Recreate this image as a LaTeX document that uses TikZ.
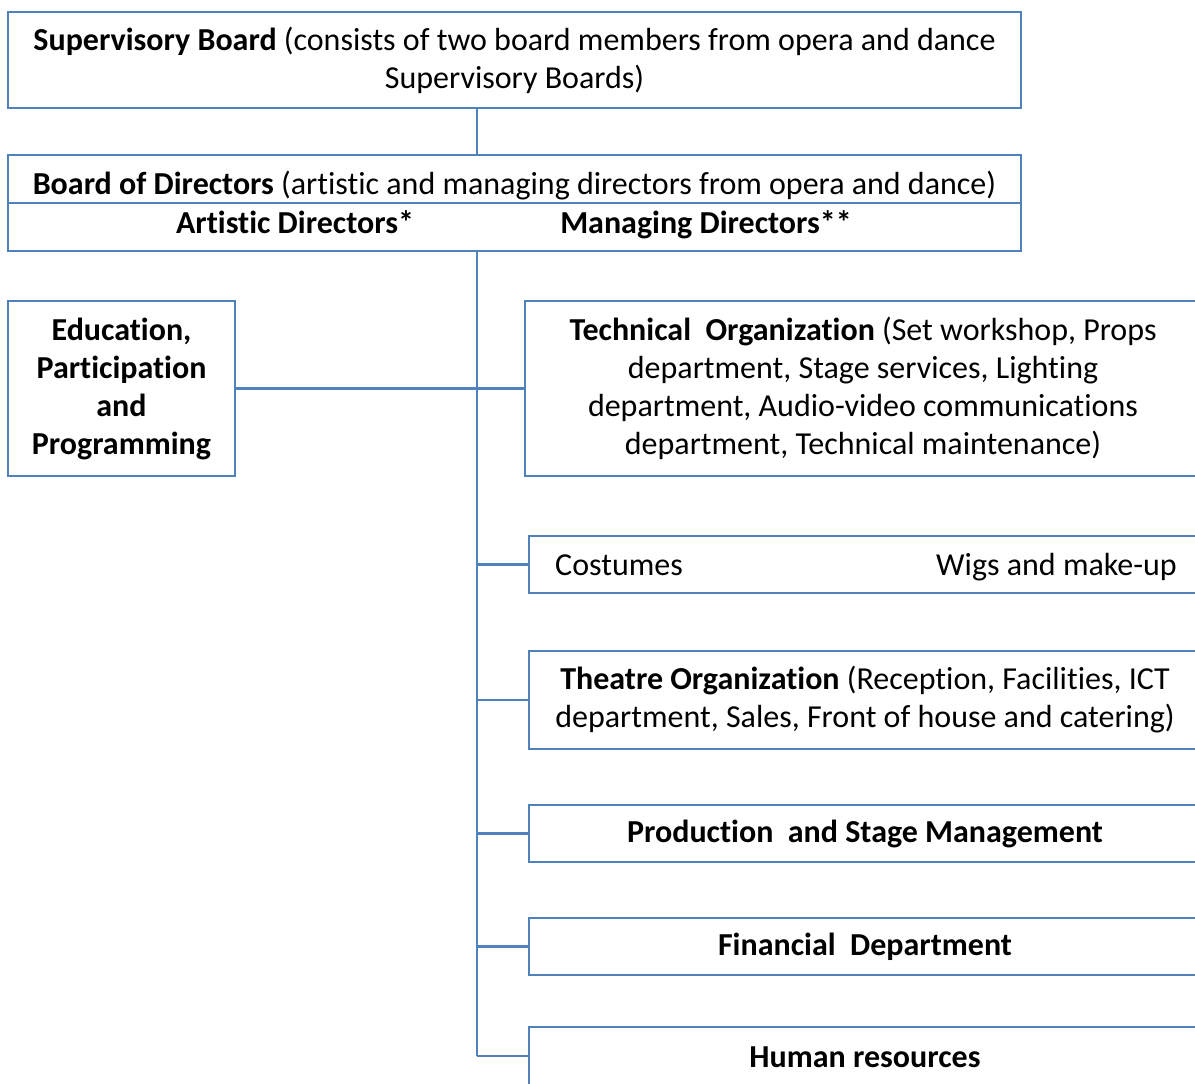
\documentclass[tikz,border=0pt]{standalone}
\usepackage{fontspec}
\setmainfont{Carlito}[Ligatures=NoCommon]
\definecolor{orgline}{RGB}{79,129,189}
\begin{document}
\begin{tikzpicture}[x=1pt,y=-1pt,
    font=\fontsize{32}{38}\selectfont,
    box/.style={draw=orgline,line width=2.5pt,rectangle,inner sep=0pt,align=center},
    lbl/.style={inner sep=0pt},
    link/.style={draw=orgline,line width=2.5pt}]
  \useasboundingbox (0,0) rectangle (1195,1084);
  \clip (0,0) rectangle (1195,1084);
  % boards
  \node[box,minimum width=1013pt,minimum height=96pt] (sup) at (514.5,60)
    {\textbf{Supervisory Board} (consists of two board members from opera and dance\\Supervisory Boards)};
  \node[box,minimum width=1013pt,minimum height=96pt] (bod) at (514.5,203) {};
  \draw[link] (bod.west) -- (bod.east);
  \node[lbl,anchor=base] (bodtxt) at (514.5,194)
    {\textbf{Board of Directors} (artistic and managing directors from opera and dance)};
  \node[lbl,anchor=base] (art) at (295,233) {\textbf{Artistic Directors*}};
  \node[lbl,anchor=base] (man) at (706,233) {\textbf{Managing Directors**}};
  \coordinate (trunk) at (477,251);
  \coordinate (trunkend) at (477,1056);
  % departments
  \node[box,minimum width=227pt,minimum height=175pt] (edu) at (121.5,388.5)
    {\textbf{Education,}\\\textbf{Participation}\\\textbf{and}\\\textbf{Programming}};
  \node[box,minimum width=676pt,minimum height=175pt] (tech) at (863,388.5)
    {\textbf{Technical\ \ Organization} (Set workshop, Props\\department, Stage services, Lighting\\department, Audio-video communications\\department, Technical maintenance)};
  \node[box,minimum width=672pt,minimum height=57pt] (cost) at (865,564.5) {};
  \node[lbl,anchor=base west] (costa) at (555,575) {Costumes};
  \node[lbl,anchor=base east] (costb) at (1177,575) {Wigs and make-up};
  \node[box,minimum width=672pt,minimum height=98pt] (theatre) at (865,700)
    {\textbf{Theatre Organization} (Reception, Facilities, ICT\\department, Sales, Front of house and catering)};
  \node[box,minimum width=672pt,minimum height=57pt] (prod) at (865,833.5)
    {\textbf{Production\ \ and Stage Management}};
  \node[box,minimum width=672pt,minimum height=57pt] (fin) at (865,946.5)
    {\textbf{Financial\ \ Department}};
  \node[box,minimum width=672pt,minimum height=60pt] (hr) at (865,1057)
    {\textbf{Human resources}};
  % connectors
  \draw[link] (sup.south -| trunk) -- (bod.north -| trunk);
  \draw[link] (trunk) -- (trunkend);
  \draw[link] (edu.east) -- (tech.west);
  \draw[link] (cost.west -| trunk) -- (cost.west);
  \draw[link] (theatre.west -| trunk) -- (theatre.west);
  \draw[link] (prod.west -| trunk) -- (prod.west);
  \draw[link] (fin.west -| trunk) -- (fin.west);
  \draw[link] (trunkend) -- (hr.west |- trunkend);
\end{tikzpicture}
\end{document}
